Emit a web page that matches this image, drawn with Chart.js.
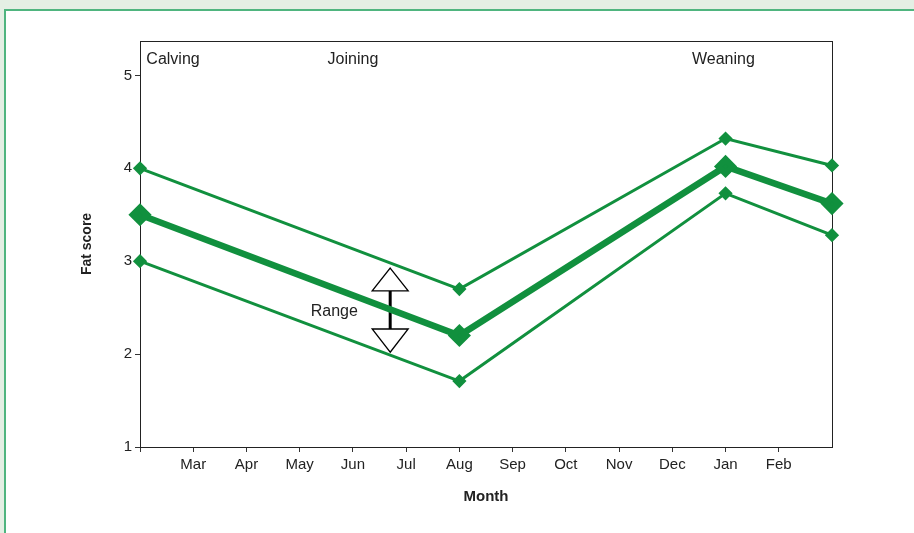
<!DOCTYPE html>
<html>
<head>
<meta charset="utf-8">
<script src="https://cdn.jsdelivr.net/npm/chart.js@4"></script>
<style>
  html, body { margin: 0; padding: 0; }
  body { width: 914px; height: 533px; background: #e4efe4; overflow: hidden; position: relative; }
  #panel { position: absolute; left: 4px; top: 9px; width: 960px; height: 600px; background: #fff;
           border-left: 2px solid #4fb57f; border-top: 2px solid #4fb57f; }
  #wrap { position: absolute; left: 0; top: 0; width: 914px; height: 533px; }
</style>
</head>
<body>
<div id="panel"></div>
<div id="wrap"><canvas id="fatChart" width="914" height="533"></canvas></div>
<script>
// -----------------------------
// Data
// -----------------------------
const monthLabels = ['', 'Mar', 'Apr', 'May', 'Jun', 'Jul', 'Aug', 'Sep', 'Oct', 'Nov', 'Dec', 'Jan', 'Feb', ''];
const pointMonth = [0, 6, 11, 13];
const upperScore = [4.0, 2.7, 4.32, 4.03];
const meanScore = [3.5, 2.2, 4.02, 3.62];
const lowerScore = [3.0, 1.71, 3.73, 3.28];
const yTicks = [1, 2, 3, 4, 5];

const eventNames = ['Calving', 'Joining', 'Weaning'];
const eventMonth = [0.62, 4.0, 10.96];

const green = '#11903e';
const ink = '#222';

function toPoints(vals) {
    return vals.map((v, i) => ({ x: pointMonth[i], y: v }));
}

// -----------------------------
// Annotations (events, range arrow, frame)
// -----------------------------
const annotate = {
    id: 'annotate',
    beforeDatasetsDraw(chart) {
        const { ctx, chartArea: a, scales: { x, y } } = chart;
        ctx.save();
        ctx.strokeStyle = '#222';
        ctx.lineWidth = 1;
        ctx.strokeRect(a.left + 0.5, a.top + 0.5, a.right - a.left, a.bottom - a.top);

        // range stem
        const ax = x.getPixelForValue(4.7);
        ctx.strokeStyle = '#000';
        ctx.lineWidth = 3;
        ctx.beginPath();
        ctx.moveTo(ax, y.getPixelForValue(2.68));
        ctx.lineTo(ax, y.getPixelForValue(2.27));
        ctx.stroke();
        ctx.restore();
    },
    afterDatasetsDraw(chart) {
        const { ctx, scales: { x, y } } = chart;
        ctx.save();
        ctx.font = '16px "Liberation Sans", Arial, sans-serif';
        ctx.fillStyle = ink;
        ctx.textAlign = 'center';
        ctx.textBaseline = 'middle';
        eventNames.forEach((name, i) => {
            ctx.fillText(name, x.getPixelForValue(eventMonth[i]), y.getPixelForValue(5.17));
        });
        ctx.fillText('Range', x.getPixelForValue(3.65), y.getPixelForValue(2.46));

        // triangles
        const ax = x.getPixelForValue(4.7);
        const hw = 18;
        ctx.fillStyle = '#fff';
        ctx.strokeStyle = '#000';
        ctx.lineWidth = 1.3;
        ctx.beginPath();
        ctx.moveTo(ax, y.getPixelForValue(2.925));
        ctx.lineTo(ax + hw, y.getPixelForValue(2.68));
        ctx.lineTo(ax - hw, y.getPixelForValue(2.68));
        ctx.closePath();
        ctx.fill();
        ctx.stroke();
        ctx.beginPath();
        ctx.moveTo(ax, y.getPixelForValue(2.02));
        ctx.lineTo(ax + hw, y.getPixelForValue(2.27));
        ctx.lineTo(ax - hw, y.getPixelForValue(2.27));
        ctx.closePath();
        ctx.fill();
        ctx.stroke();
        ctx.restore();
    }
};

// -----------------------------
// Chart
// -----------------------------
Chart.defaults.font.family = '"Liberation Sans", Arial, sans-serif';
Chart.defaults.color = ink;

const ctx = document.getElementById('fatChart').getContext('2d');
new Chart(ctx, {
    type: 'line',
    data: {
        datasets: [
            { label: 'Upper', data: toPoints(upperScore), borderColor: green, backgroundColor: green,
              borderWidth: 3, pointStyle: 'rectRot', pointRadius: 5, clip: false },
            { label: 'Mean', data: toPoints(meanScore), borderColor: green, backgroundColor: green,
              borderWidth: 6.5, pointStyle: 'rectRot', pointRadius: 7, clip: false },
            { label: 'Lower', data: toPoints(lowerScore), borderColor: green, backgroundColor: green,
              borderWidth: 3, pointStyle: 'rectRot', pointRadius: 5, clip: false }
        ]
    },
    options: {
        responsive: false,
        animation: false,
        layout: { padding: { top: 41, right: 82, bottom: 0, left: 0 } },
        plugins: { legend: { display: false }, tooltip: { enabled: false } },
        scales: {
            x: {
                type: 'linear',
                min: 0,
                max: 13,
                afterFit(s) { s.height = 86; },
                afterBuildTicks(s) { s.ticks = monthLabels.slice(0, 13).map((_, i) => ({ value: i })); },
                ticks: {
                    font: { size: 15 },
                    padding: 4,
                    maxRotation: 0,
                    autoSkip: false,
                    callback: (v) => monthLabels[v]
                },
                grid: { drawOnChartArea: false, tickLength: 5, color: '#333' },
                border: { color: '#222' },
                title: { display: true, text: 'Month', font: { size: 15, weight: 'bold' }, padding: { top: 0, bottom: 27 } }
            },
            y: {
                min: 1,
                max: 5.37,
                afterFit(s) { s.width = 140; },
                afterBuildTicks(s) { s.ticks = yTicks.map(v => ({ value: v })); },
                ticks: { font: { size: 15 }, padding: 3 },
                grid: { drawOnChartArea: false, tickLength: 5, color: '#333' },
                border: { color: '#222' },
                title: { display: true, text: 'Fat score', font: { size: 14, weight: 'bold' }, padding: { top: 79, bottom: 0 } }
            }
        }
    },
    plugins: [annotate]
});
</script>
</body>
</html>
